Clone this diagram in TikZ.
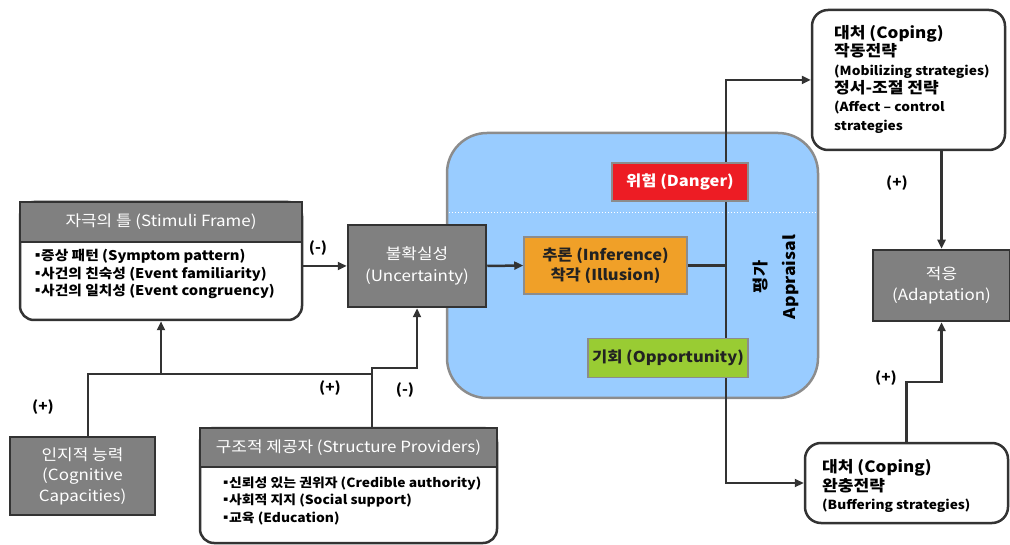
\documentclass[tikz,border=0pt]{standalone}
\usepackage{fontspec}
\setmainfont{Noto Sans CJK KR}[FakeStretch=1.1]
\usetikzlibrary{arrows.meta}
\definecolor{boxgray}{HTML}{808080}
\definecolor{linec}{HTML}{333333}
\definecolor{blueF}{HTML}{99CCFF}
\definecolor{blueB}{HTML}{8C8C8C}
\definecolor{dangerR}{HTML}{ED1C24}
\definecolor{infO}{HTML}{F0A028}
\definecolor{oppG}{HTML}{99CC33}
\definecolor{txtdark}{HTML}{222222}
\tikzset{
  graybox/.style={draw=linec, line width=2.5pt, fill=boxgray, text=white, inner sep=0pt, align=center, font=\fontsize{15.4}{21.5}\selectfont},
  roundbox/.style={draw=linec, line width=2.5pt, fill=white, rounded corners=14pt, inner sep=0pt},
  hdrbox/.style={draw=linec, line width=2.5pt, fill=boxgray, text=white, inner sep=0pt, font=\fontsize{15.4}{18}\selectfont},
  bodytxt/.style={inner sep=0pt, align=left, anchor=west, font=\bfseries\fontsize{13.4}{17.5}\selectfont},
  colbox/.style={draw=blueB, line width=1.5pt, inner sep=0pt, align=center, font=\bfseries\fontsize{15}{20}\selectfont},
  conn/.style={draw=linec, line width=2.5pt},
  arr/.style={conn, -{Triangle[length=9pt,width=8pt]}},
  lbl/.style={inner sep=0pt, font=\bfseries\fontsize{14}{16}\selectfont},
}
\newcommand{\subline}{\fontsize{12.5}{18.4}\selectfont}
\newcommand{\bul}{\hbox to 7pt{\hss▪\hss}}
\begin{document}
\begin{tikzpicture}[x=1pt,y=-1pt]
\useasboundingbox (0,0) rectangle (1010,545);

% appraisal region
\node[draw=blueB, line width=2.5pt, fill=blueF, rounded corners=40pt, minimum width=371pt, minimum height=265pt, inner sep=0pt] (region) at (632.5,265.5) {};
\draw[white, dotted, line width=1pt] (449,213) -- (816,213);

% stimuli frame
\node[roundbox, minimum width=282pt, minimum height=118pt] (sf) at (161,261) {};
\node[hdrbox, minimum width=282pt, minimum height=40pt] (sfh) at (161,222) {자극의 틀 (Stimuli Frame)};
\node[bodytxt] (sft) at (34,274) {\bul 증상 패턴 (Symptom pattern)\\\bul 사건의 친숙성 (Event familiarity)\\\bul 사건의 일치성 (Event congruency)};

% uncertainty
\node[graybox, minimum width=138pt, minimum height=82pt] (unc) at (417,266) {불확실성\\(Uncertainty)};

% cognitive capacities
\node[graybox, minimum width=145pt, minimum height=78pt, font=\fontsize{15.4}{20.5}\selectfont] (cog) at (82.5,476) {인지적 능력\\(Cognitive\\Capacities)};

% structure providers
\node[roundbox, minimum width=297pt, minimum height=115pt] (sp) at (348.5,485.5) {};
\node[hdrbox, minimum width=297pt, minimum height=39pt] (sph) at (348.5,447.5) {구조적 제공자 (Structure Providers)};
\node[bodytxt, font=\bfseries\fontsize{12.6}{17.5}\selectfont] (spt) at (222,500.5) {\bul 신뢰성 있는 권위자 (Credible authority)\\\bul 사회적 지지 (Social support)\\\bul 교육 (Education)};

% coping boxes
\node[roundbox, minimum width=193pt, minimum height=140pt, rounded corners=16pt] (cop1) at (908.5,80) {};
\node[inner sep=0pt, align=left, anchor=north west, font=\bfseries\fontsize{15.5}{18.4}\selectfont] (cop1t) at (834,25) {대처 (Coping)\\작동전략\\{\subline (Mobilizing strategies)}\\정서-조절 전략\\{\subline (Affect – control}\\{\subline strategies}};

\node[roundbox, minimum width=203pt, minimum height=80pt, rounded corners=16pt] (cop2) at (906.5,483) {};
\node[inner sep=0pt, align=left, anchor=west, font=\bfseries\fontsize{15.5}{18.5}\selectfont] (cop2t) at (822,486) {대처 (Coping)\\완충전략\\{\subline (Buffering strategies)}};

% adaptation
\node[graybox, minimum width=137pt, minimum height=71pt] (adapt) at (941.5,285.5) {적응\\(Adaptation)};

% vertical appraisal line
\coordinate (vmid) at (726,266);
\draw[arr] (vmid) |- (cop1.west);
\draw[arr] (vmid) |- (cop2.west);

% inner boxes
\node[colbox, fill=dangerR, text=white, minimum width=136pt, minimum height=38pt] (danger) at (680,182) {위험 (Danger)};
\node[colbox, fill=infO, text=txtdark, minimum width=163pt, minimum height=57pt] (inf) at (605.5,265.5) {추론 (Inference)\\착각 (Illusion)};
\node[colbox, fill=oppG, text=txtdark, minimum width=160pt, minimum height=39pt] (opp) at (668,358) {기회 (Opportunity)};
\node[inner sep=0pt, rotate=90, align=center, font=\bfseries\fontsize{16}{29}\selectfont] (apprt) at (776,277) {평가\\Appraisal};

% connectors
\draw[arr] (sf.east |- unc.west) -- (unc.west);
\draw[arr] (unc.east) -- (inf.west);
\draw[conn] (inf.east) -- (inf.east -| vmid);

\coordinate (c1) at (88,374);
\coordinate (c2) at (372,374);
\coordinate (c3) at (372,368);
\draw[arr] (c1 |- cog.north) -- (c1) -| (sf.south);
\draw[conn] (c2) -- (c2 -| sf.south);
\draw[arr] (c2 |- sp.north) -- (c3) -| (unc.south);

\draw[arr] (cop1.south -| adapt.north) -- (adapt.north);
\coordinate (j2) at (906.5,382);
\draw[arr] (cop2.north) -- (j2) -| (adapt.south);

% labels
\node[lbl] (l1) at (318,248) {(-)};
\node[lbl] (l2) at (43,407) {(+)};
\node[lbl] (l3) at (330,388) {(+)};
\node[lbl] (l4) at (405,390) {(-)};
\node[lbl] (l5) at (897,183) {(+)};
\node[lbl] (l6) at (886,378) {(+)};
\end{tikzpicture}
\end{document}
